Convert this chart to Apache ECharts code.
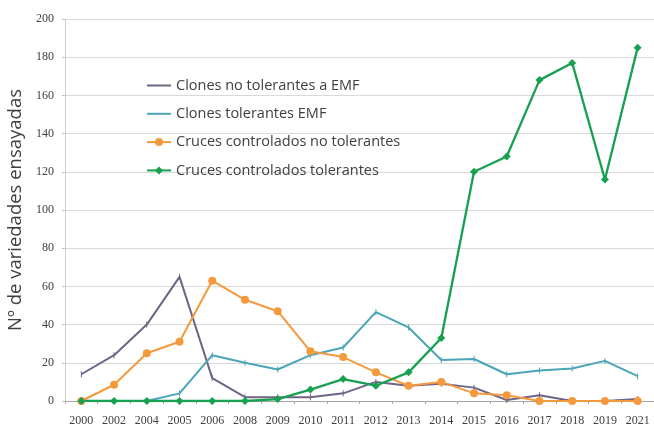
<!DOCTYPE html>
<html>
<head>
<meta charset="utf-8">
<script src="https://cdn.jsdelivr.net/npm/echarts@6/dist/echarts.min.js"></script>
<style>html,body{margin:0;padding:0;background:#fff}#c{width:654px;height:425px}</style>
</head>
<body>
<div id="c"></div>
<script>
const categories = ['2000','2002','2004','2005','2006','2008','2009','2010','2011','2012','2013','2014','2015','2016','2017','2018','2019','2021'];
const yTicks = [0,20,40,60,80,100,120,140,160,180,200];
const seriesNames = ['Clones no tolerantes a EMF','Clones tolerantes EMF','Cruces controlados no tolerantes','Cruces controlados tolerantes'];
const clonesNoTol = [14,24,40,65,12,2,2,2,4,10,8,9,7,0.5,3,0,0,1];
const clonesTol   = [0,0,0,4,24,20,16.5,24,28,46.5,38.5,21.5,22,14,16,17,21,13];
const crucesNoTol = [0,8.5,25,31,63,53,47,26,23,15,8,10,4,3,0,0,0,0];
const crucesTol   = [0,0,0,0,0,0,1,6,11.5,8,15,33,120,128,168,177,116,185];

const chart = echarts.init(document.getElementById('c'), null, {renderer:'canvas'});
const tickFont = '"Liberation Serif", "DejaVu Serif", serif';
chart.setOption({
  animation:false,
  backgroundColor:'#fff',
  grid:{left:65, right:0, top:19, bottom:24, containLabel:false, outerBoundsMode:'none'},
  legend:{
    orient:'vertical', left:141, top:73, itemWidth:24, itemHeight:10, itemGap:13.3,
    textStyle:{fontFamily:'Open Sans', fontSize:14.5, color:'#404040'},
    data:[
      {name:seriesNames[0], itemStyle:{opacity:0}},
      {name:seriesNames[1], itemStyle:{opacity:0}},
      {name:seriesNames[2]},
      {name:seriesNames[3]}
    ]
  },
  xAxis:{
    type:'category', data:categories, boundaryGap:true,
    axisLine:{lineStyle:{color:'#a6a6a6', width:1}},
    axisTick:{show:true, length:3, lineStyle:{color:'#a6a6a6'}},
    axisLabel:{fontFamily:tickFont, fontSize:12, color:'#404040', margin:14, interval:0}
  },
  yAxis:{
    type:'value', min:yTicks[0], max:yTicks[yTicks.length-1], interval:20,
    name:'Nº de variedades ensayadas', nameLocation:'middle', nameGap:37,
    nameTextStyle:{fontFamily:'Open Sans', fontSize:18.5, color:'#404040'},
    axisLine:{show:true, lineStyle:{color:'#d0d0d0'}},
    axisTick:{show:true, length:3, lineStyle:{color:'#bfbfbf'}},
    axisLabel:{fontFamily:tickFont, fontSize:12, color:'#404040', margin:11},
    splitLine:{lineStyle:{color:'#d9d9d9', width:1}}
  },
  series:[
    {name:seriesNames[0], type:'line', data:clonesNoTol, color:'#6f6485',
     symbol:'rect', symbolSize:[1,6], showSymbol:true,
     lineStyle:{width:2, color:'#6f6485'}, itemStyle:{color:'#6f6485'}},
    {name:seriesNames[1], type:'line', data:clonesTol, color:'#4aa5b8',
     symbol:'rect', symbolSize:[1,6],
     lineStyle:{width:2, color:'#4aa5b8'}, itemStyle:{color:'#4aa5b8'}},
    {name:seriesNames[2], type:'line', data:crucesNoTol, color:'#f59a3c',
     symbol:'circle', symbolSize:8,
     lineStyle:{width:2, color:'#f59a3c'}, itemStyle:{color:'#f59a3c'}},
    {name:seriesNames[3], type:'line', data:crucesTol, color:'#16a050', z:3,
     symbol:'diamond', symbolSize:8,
     lineStyle:{width:2.3, color:'#16a050'}, itemStyle:{color:'#16a050'}}
  ]
});
</script>
</body>
</html>
